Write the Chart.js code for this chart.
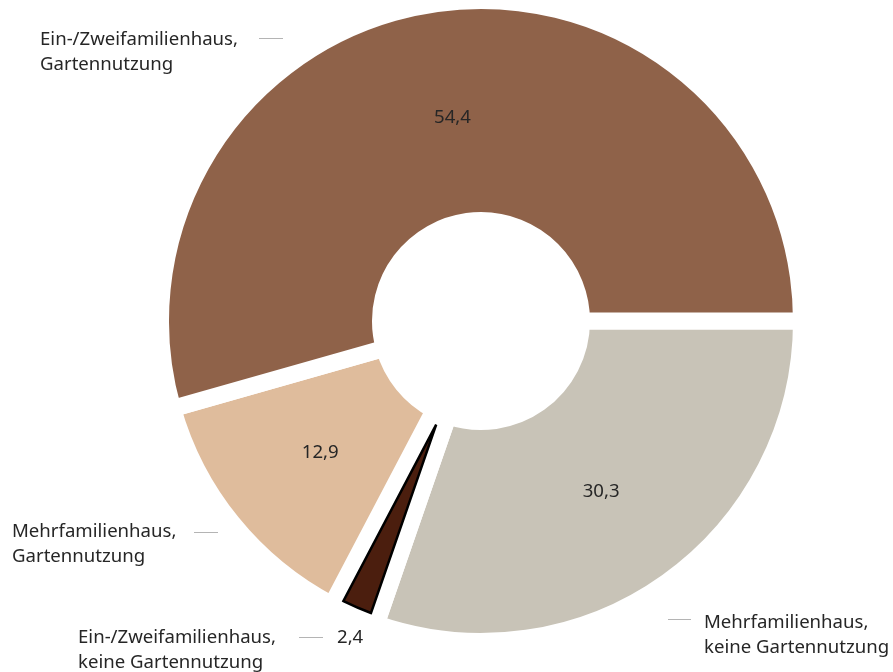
<!DOCTYPE html>
<html lang="de">
<head>
  <meta charset="UTF-8">
  <title>Wohnsituation und Gartennutzung</title>
  <script src="https://cdn.jsdelivr.net/npm/chart.js"></script>
  <style>
    html, body { margin: 0; padding: 0; background: #fff; }
  </style>
</head>
<body>
  <canvas id="wohnChart" width="893" height="672"></canvas>
  <script>
    // Anteile in Prozent, im Uhrzeigersinn ab 3 Uhr
    const categories = [
      ['Mehrfamilienhaus,', 'keine Gartennutzung'],
      ['Ein-/Zweifamilienhaus,', 'keine Gartennutzung'],
      ['Mehrfamilienhaus,', 'Gartennutzung'],
      ['Ein-/Zweifamilienhaus,', 'Gartennutzung']
    ];
    const shares = [30.3, 2.4, 12.9, 54.4];
    const valueLabels = ['30,3', '2,4', '12,9', '54,4'];
    const colors = ['#c8c3b7', '#4b1e0e', '#dfbc9c', '#8f6249'];

    // Geometrie
    const R = 312;      // sichtbarer Außenradius
    const HOLE = 109;   // Loch in der Mitte
    const GAP = 17;     // Abstand zwischen den Segmenten
    const FONT = '18.6px "Noto Sans"';
    const TEXT = '#262626';

    // Position der Beschriftungen außen (Text links, Linie davor/danach)
    const outerLayout = [
      { x: 704, y: 628, line: [668, 691, 619] },
      { x: 78, y: 643, line: [299, 323, 637], value: 337 },
      { x: 12, y: 537, line: [194, 218, 532] },
      { x: 40, y: 45, line: [259, 283, 38] }
    ];

    const labelPlugin = {
      id: 'labels',
      afterDatasetsDraw(chart) {
        const ctx = chart.ctx;
        const arcs = chart.getDatasetMeta(0).data;

        // schmales Segment: schwarze Kontur um den sichtbaren Keil
        const a = arcs[1];
        const g = GAP / 2;
        const half = (a.endAngle - a.startAngle) / 2;
        const mid = (a.startAngle + a.endAngle) / 2;
        const apex = g / Math.sin(half);
        const d = Math.asin(g / R);
        ctx.save();
        ctx.beginPath();
        ctx.moveTo(a.x + apex * Math.cos(mid), a.y + apex * Math.sin(mid));
        ctx.arc(a.x, a.y, R, a.startAngle + d, a.endAngle - d);
        ctx.closePath();
        ctx.lineWidth = 2.5;
        ctx.lineJoin = 'miter';
        ctx.strokeStyle = '#000';
        ctx.stroke();

        ctx.font = FONT;
        ctx.fillStyle = TEXT;
        ctx.textBaseline = 'alphabetic';

        // Werte in den Segmenten
        ctx.textAlign = 'center';
        arcs.forEach((arc, i) => {
          if (i === 1) return;
          const m = (arc.startAngle + arc.endAngle) / 2;
          const r = 207;
          ctx.fillText(valueLabels[i], arc.x + r * Math.cos(m), arc.y + r * Math.sin(m) + 7);
        });

        // Kategorien außen
        ctx.textAlign = 'left';
        categories.forEach((lines, i) => {
          const l = outerLayout[i];
          lines.forEach((t, k) => ctx.fillText(t, l.x, l.y + k * 25));
          if (l.value) ctx.fillText(valueLabels[i], l.value, l.y);
          ctx.beginPath();
          ctx.moveTo(l.line[0], l.line[2] + 0.5);
          ctx.lineTo(l.line[1], l.line[2] + 0.5);
          ctx.lineWidth = 1;
          ctx.strokeStyle = '#b4b4b4';
          ctx.stroke();
        });
        ctx.restore();
      }
    };

    new Chart(document.getElementById('wohnChart'), {
      type: 'doughnut',
      data: {
        labels: categories.map(c => c.join(' ')),
        datasets: [{
          data: shares,
          backgroundColor: colors,
          borderColor: '#fff',
          borderWidth: GAP,
          borderJoinStyle: 'miter',
          hoverOffset: 0
        }]
      },
      options: {
        responsive: false,
        animation: false,
        rotation: 90,
        radius: R + GAP / 2,
        cutout: ((HOLE - GAP / 2) / (R + GAP / 2) * 100) + '%',
        layout: { padding: { left: 69, right: 0, top: 0, bottom: 30 } },
        plugins: {
          legend: { display: false },
          tooltip: { enabled: false }
        }
      },
      plugins: [labelPlugin]
    });
  </script>
</body>
</html>
